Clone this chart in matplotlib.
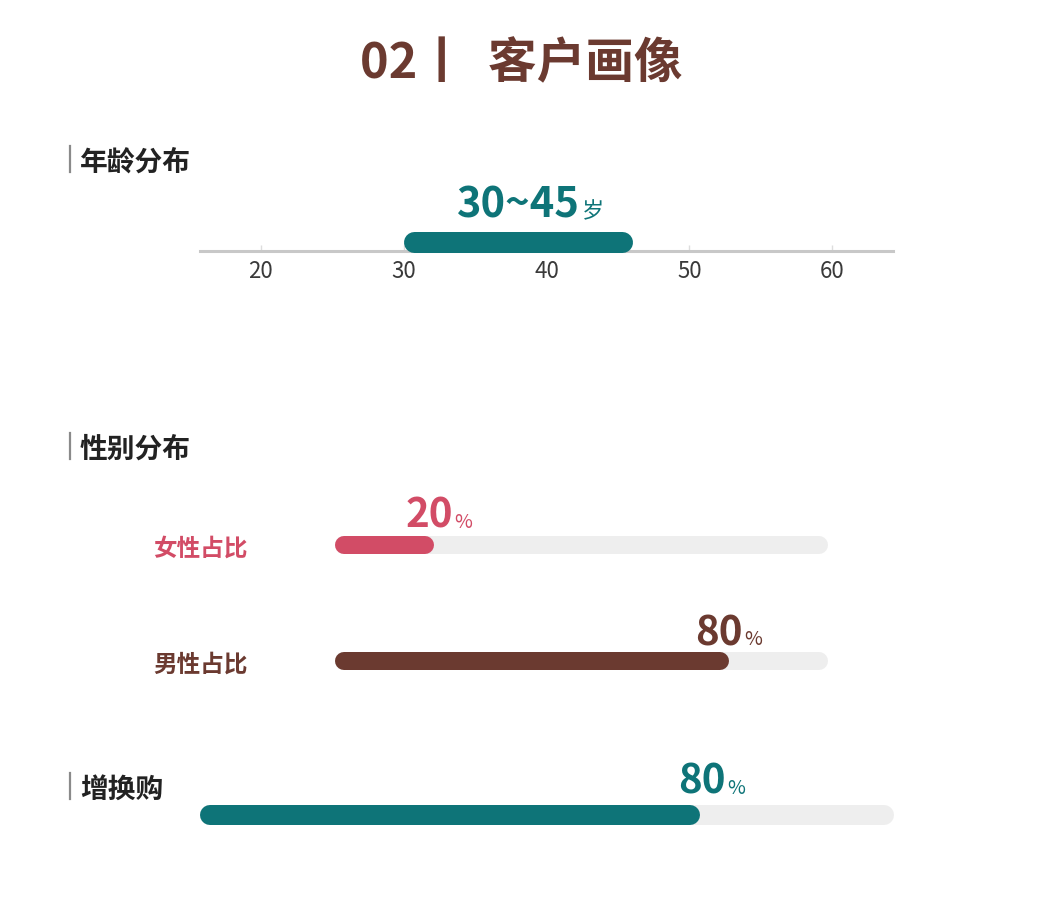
# Recriando o infográfico "02丨 客户画像" (perfil do cliente) com matplotlib
import matplotlib.pyplot as plt
from matplotlib.lines import Line2D

plt.rcParams['font.family'] = ['Noto Sans CJK SC', 'DejaVu Sans']

# =-=-=-=-=-=-=-=-=-=-=-=-=-=-=-=-=-=-=-=-=-=-=-=-=-=-=-=-=-=-=-=-=-=-=-=-
# dados
# =-=-=-=-=-=-=-=-=-=-=-=-=-=-=-=-=-=-=-=-=-=-=-=-=-=-=-=-=-=-=-=-=-=-=-=-
titulo = '02丨  客户画像'
secoes = ['年龄分布', '性别分布', '增换购']

idade_ticks = [20, 30, 40, 50, 60]
idade_min = 30
idade_max = 45          # faixa inclusiva -> a barra vai até 46

genero_rotulos = ['女性占比', '男性占比']
genero_valores = [20, 80]

huangou_valor = 80      # texto mostrado
huangou_barra = 72      # comprimento da barra

# cores
marrom = '#6B3A30'
verde = '#0E7478'
rosa = '#D24C66'
trilho = '#EEEEEE'
cinza_linha = '#C8C8C8'

W, H = 1048, 904


def fx(px):
    return px / W


def fy(py):
    return 1 - py / H


def eixo(esq, dir_, centro, alt=30):
    ax = fig.add_axes([fx(esq), fy(centro + alt / 2), (dir_ - esq) / W, alt / H])
    ax.patch.set_visible(False)
    return ax


def barra(ax, x0, x1, y, cor, esp_px, z=3):
    # barra com pontas arredondadas, recuando o raio da ponta em unidades de dados
    larg_px = ax.get_position().width * W
    xmin, xmax = ax.get_xlim()
    r = (esp_px / 2) / (larg_px / (xmax - xmin))
    ax.plot([x0 + r, x1 - r], [y, y], color=cor, lw=esp_px * 0.72,
            solid_capstyle='round', zorder=z, clip_on=False)


def rotulo(ax, x, y, numero, sufixo, cor, dx, dy, tam_num=29, tam_suf=14):
    ax.annotate(numero, (x, y), xytext=(dx, dy), textcoords='offset points',
                ha='right', va='baseline', fontsize=tam_num, fontweight='bold',
                color=cor, annotation_clip=False)
    ax.annotate(sufixo, (x, y), xytext=(dx + 1.2, dy), textcoords='offset points',
                ha='left', va='baseline', fontsize=tam_suf, color=cor,
                annotation_clip=False)


def cabecalho(texto, py):
    fig.add_artist(Line2D([fx(70), fx(70)], [fy(py - 13), fy(py + 13)],
                          color='#8A8A8A', lw=1.6))
    fig.text(fx(80), fy(py + 3), texto, ha='left', va='center', fontsize=20,
             fontweight='bold', color='#222222')


def limpar(ax):
    for s in ax.spines.values():
        s.set_visible(False)
    ax.set_xticks([])


fig = plt.figure(figsize=(W / 100, H / 100), dpi=100)

# título
fig.text(fx(521), fy(64), titulo, ha='center', va='center', fontsize=35,
         fontweight='bold', color=marrom)

# =-=-=-=-=-=-=-=-=-=-=-=-=-=-=-=-=-=-=-=-=-=-=-=-=-=-=-=-=-=-=-=-=-=-=-=-
# faixa etária
# =-=-=-=-=-=-=-=-=-=-=-=-=-=-=-=-=-=-=-=-=-=-=-=-=-=-=-=-=-=-=-=-=-=-=-=-
cabecalho(secoes[0], 160)

ax_idade = fig.add_axes([fx(200), fy(252), 693 / W, 40 / H])
ax_idade.patch.set_visible(False)
ax_idade.set_xlim(15.73, 64.27)
ax_idade.set_ylim(0, 40)
for lado in ['left', 'right', 'top']:
    ax_idade.spines[lado].set_visible(False)
ax_idade.spines['bottom'].set_color(cinza_linha)
ax_idade.spines['bottom'].set_linewidth(2.2)
ax_idade.set_yticks([])
ax_idade.set_xticks(idade_ticks)
ax_idade.tick_params(axis='x', direction='in', length=4, width=1,
                     color='#DDDDDD', labelcolor='#3A3A3A', labelsize=16, pad=6)

centro_idade = (idade_min + idade_max + 1) / 2
barra(ax_idade, idade_min, idade_max + 1, 9, verde, 21)
rotulo(ax_idade, centro_idade, 9, f'{idade_min}~{idade_max}', '岁', verde,
       44.6, 18.0, tam_num=30, tam_suf=16)

# =-=-=-=-=-=-=-=-=-=-=-=-=-=-=-=-=-=-=-=-=-=-=-=-=-=-=-=-=-=-=-=-=-=-=-=-
# gênero
# =-=-=-=-=-=-=-=-=-=-=-=-=-=-=-=-=-=-=-=-=-=-=-=-=-=-=-=-=-=-=-=-=-=-=-=-
cabecalho(secoes[1], 447)

centros = [546, 662]
cores_genero = [rosa, marrom]
desloc = [(13.7, 13.0), (9.4, 12.0)]
for rot, val, cen, cor, (dx, dy) in zip(genero_rotulos, genero_valores,
                                         centros, cores_genero, desloc):
    ax = eixo(335, 828, cen)
    ax.set_xlim(0, 100)
    ax.set_ylim(-1, 1)
    limpar(ax)
    ax.set_yticks([0])
    ax.set_yticklabels([rot])
    ax.tick_params(axis='y', length=0, pad=62.6, labelsize=17, labelcolor=cor)
    for t in ax.get_yticklabels():
        t.set_fontweight('bold')
    barra(ax, 0, 100, 0, trilho, 18, z=2)
    barra(ax, 0, val, 0, cor, 18)
    rotulo(ax, val, 0, str(val), '%', cor, dx, dy)

# =-=-=-=-=-=-=-=-=-=-=-=-=-=-=-=-=-=-=-=-=-=-=-=-=-=-=-=-=-=-=-=-=-=-=-=-
# 增换购
# =-=-=-=-=-=-=-=-=-=-=-=-=-=-=-=-=-=-=-=-=-=-=-=-=-=-=-=-=-=-=-=-=-=-=-=-
cabecalho(secoes[2], 787)

ax_hg = eixo(200, 894, 816)
ax_hg.set_xlim(0, 100)
ax_hg.set_ylim(-1, 1)
limpar(ax_hg)
ax_hg.set_yticks([])
barra(ax_hg, 0, 100, 0, trilho, 20, z=2)
barra(ax_hg, 0, huangou_barra, 0, verde, 20)
rotulo(ax_hg, huangou_barra, 0, str(huangou_valor), '%', verde, 18.7, 16.0)

fig.savefig('out.png', dpi=100)
